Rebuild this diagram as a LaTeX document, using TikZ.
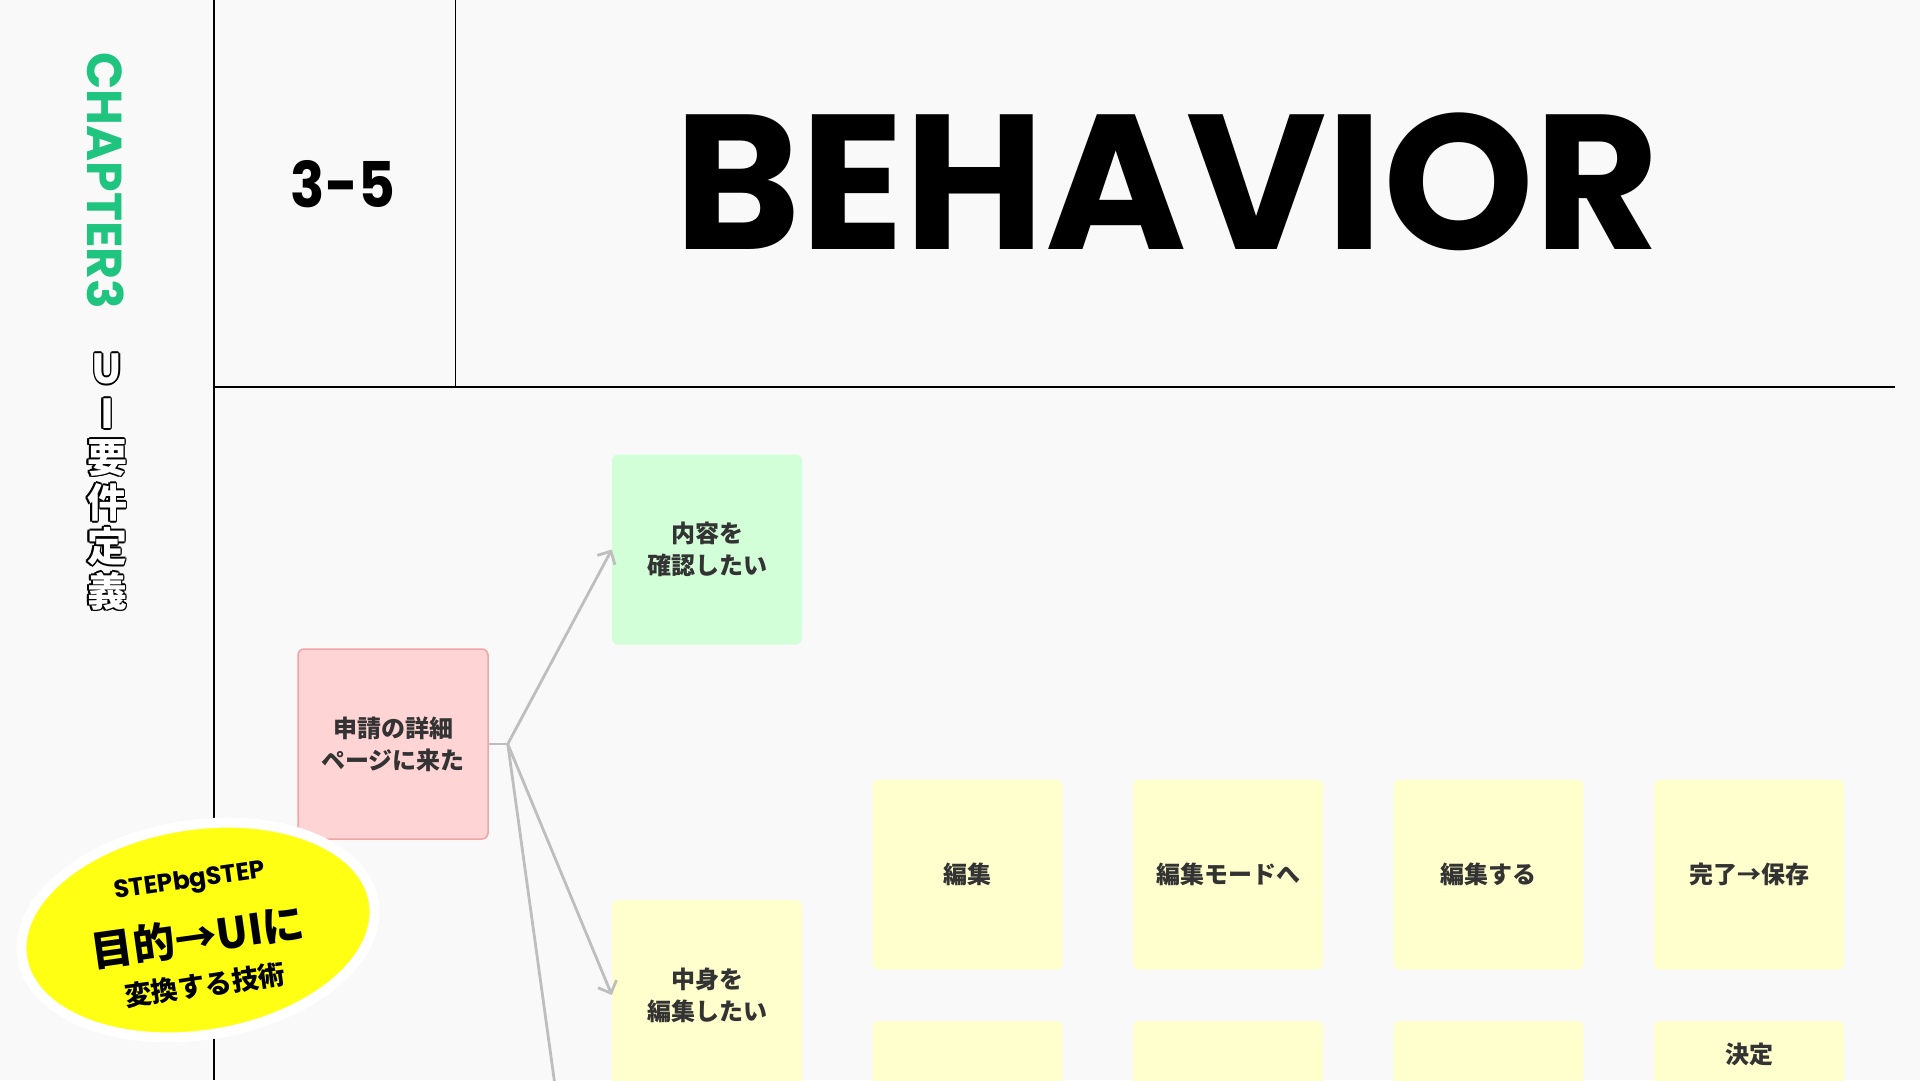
\documentclass[tikz,border=0pt]{standalone}
\usepackage{fontspec}
\newfontfamily\headfont{Poppins}
\newfontfamily\jpfont{Noto Sans CJK JP}
\usetikzlibrary{shapes.geometric,arrows.meta,positioning}

\definecolor{paper}{HTML}{F9F9F9}
\definecolor{chapgreen}{HTML}{1FC47F}
\definecolor{ink}{HTML}{333333}
\definecolor{linkgray}{HTML}{BEBEBE}
\definecolor{stickypink}{HTML}{FFD4D4}
\definecolor{pinkedge}{HTML}{F2A5A5}
\definecolor{stickygreen}{HTML}{D2FFD8}
\definecolor{stickyyellow}{HTML}{FFFFCD}
\definecolor{badgeyellow}{HTML}{FFFF14}

\tikzset{
  frameline/.style={draw=black, line width=1.3pt},
  sticky/.style={minimum width=190pt, minimum height=190pt, rounded corners=6pt,
    inner sep=0pt, align=center, text=ink,
    font=\jpfont\bfseries\fontsize{24}{32}\selectfont},
  cardtext/.style={inner sep=0pt, text=ink, font=\jpfont\bfseries\fontsize{24}{32}\selectfont},
  branch/.style={draw=linkgray, line width=2.8pt},
  branchtip/.style={branch, -{Straight Barb[length=10pt,width=20pt]}},
  outlined/.style={inner sep=0pt, font=\jpfont\bfseries\fontsize{40}{40}\selectfont},
  badge/.style={ellipse, minimum width=356pt, minimum height=210pt,
    fill=badgeyellow, draw=white, line width=10pt, rotate=9}
}

\begin{document}
\begin{tikzpicture}[x=1pt,y=-1pt]
    \fill[paper] (0,0) rectangle (1920,1080);
    \useasboundingbox (0,0) rectangle (1920,1080);
    \clip (0,0) rectangle (1920,1080);

    % Frame
    \draw[frameline] (214,0) -- (214,1080);
    \draw[frameline] (455.5,0) -- (455.5,387);
    \draw[frameline] (214,387) -- (1895,387);

    % Side heading
    \node[text=chapgreen, rotate=-90, inner sep=0pt,
          font=\headfont\bfseries\fontsize{49}{49}\selectfont] (chapter) at (106,181) {CHAPTER3};
    \foreach \ch [count=\i] in {U,I,要,件,定,義} {
        \foreach \a in {0,45,...,315}
            \node[outlined, text=black] (ui-\i-\a) at ([shift={(\a:1.7)}]107,324.6+44.4*\i) {\ch};
        \node[outlined, text=white] (ui-\i) at (107,324.6+44.4*\i) {\ch};
    }

    % Title
    \node[inner sep=0pt, xscale=0.9, font=\headfont\bfseries\fontsize{63}{63}\selectfont] (section) at (343,184) {3-5};
    \node[inner sep=0pt, font=\headfont\bfseries\fontsize{192}{192}\selectfont] (title) at (1167,182) {BEHAVIOR};

    % Sticky notes
    \node[sticky, fill=stickypink, draw=pinkedge, line width=1.5pt] (detail) at (393,744) {申請の詳細\\ページに来た};
    \node[sticky, fill=stickygreen] (check) at (707,549.5) {内容を\\確認したい};
    \node[sticky, fill=stickyyellow] (edit) at (707,995) {中身を\\編集したい};

    \foreach \k/\txt in {0/編集, 1/編集モードへ, 2/編集する, 3/完了→保存}
        \node[sticky, fill=stickyyellow] (task-\k) at (967.5+260.5*\k,874.5) {\txt};
    \foreach \k in {0,...,3}
        \node[sticky, fill=stickyyellow] (next-\k) at (967.5+260.5*\k,1116) {};
    \node[cardtext, below=22pt of next-3.north] (decide) {決定};

    % Branches
    \draw[branch] (detail.east) -- ++(19,0) coordinate (fork);
    \draw[branchtip] (fork) -- (check.west);
    \draw[branchtip] (fork) -- (edit.west);
    \coordinate (offpage) at (557,1100);
    \draw[branch] (fork) -- (offpage);

    % Badge
    \node[badge] (sticker) at (198,930) {};
    \node[rotate=8, inner sep=0pt, font=\headfont\bfseries\fontsize{25}{25}\selectfont] (motto) at (190,882) {STEPbgSTEP};
    \node[rotate=8, inner sep=0pt, font=\jpfont\bfseries\fontsize{42}{42}\selectfont] (goal) at (198,937) {目的→UIに};
    \node[rotate=8, inner sep=0pt, font=\jpfont\bfseries\fontsize{27}{27}\selectfont] (skill) at (205,985) {変換する技術};
\end{tikzpicture}
\end{document}
